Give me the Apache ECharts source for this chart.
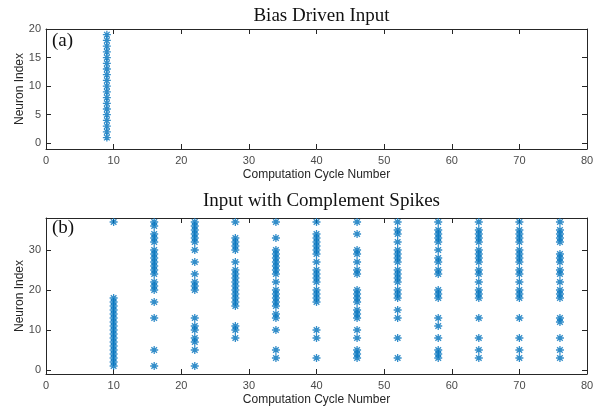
<!DOCTYPE html>
<html>
<head>
<meta charset="utf-8">
<script src="https://cdn.jsdelivr.net/npm/echarts@6/dist/echarts.min.js"></script>
<style>
  html, body { margin: 0; padding: 0; background: #fff; }
  #chart { width: 605px; height: 412px; }
</style>
</head>
<body>
<div id="chart"></div>
<script>
// Panel (a): bias driven input – one burst of spikes
const cycleA = 9;
const neuronsA = [1, 2, 3, 4, 5, 6, 7, 8, 9, 10, 11, 12, 13, 14, 15, 16, 17, 18, 19];

// Panel (b): input with complement spikes – spiking neurons per cycle
const cyclesB = [10, 16, 22, 28, 34, 40, 46, 52, 58, 64, 70, 76];
const neurons10 = [1, 2, 3, 4, 5, 6, 7, 8, 9, 10, 11, 12, 13, 14, 15, 16, 17, 18, 37];
const neurons16 = [37, 36, 34, 33, 32, 30, 29, 28, 27, 26, 25, 24, 22, 21, 20, 17, 13, 5, 1];
const neurons22 = [37, 36, 35, 34, 33, 32, 30, 27, 24, 22, 21, 20, 13, 11, 10, 8, 7, 5, 1];
const neurons28 = [37, 33, 32, 31, 30, 27, 25, 24, 23, 22, 21, 20, 19, 18, 17, 16, 11, 10, 8];
const neurons34 = [37, 33, 30, 29, 28, 27, 26, 25, 24, 22, 20, 19, 18, 17, 16, 14, 13, 10, 5, 3];
const neurons40 = [37, 34, 33, 32, 31, 30, 29, 27, 25, 24, 23, 22, 20, 19, 18, 17, 10, 8, 3];
const neurons46 = [37, 34, 30, 29, 27, 25, 24, 20, 19, 18, 17, 15, 14, 13, 10, 8, 5, 4, 3];
const neurons52 = [37, 35, 34, 32, 30, 29, 28, 27, 25, 24, 23, 22, 20, 19, 18, 15, 13, 8, 3];
const neurons58 = [37, 35, 34, 33, 32, 30, 28, 27, 25, 24, 20, 19, 18, 13, 11, 8, 5, 4, 3];
const neurons64 = [37, 35, 34, 33, 32, 30, 29, 28, 27, 25, 24, 22, 20, 19, 18, 13, 8, 5, 3];
const neurons70 = [37, 35, 34, 33, 32, 30, 29, 28, 27, 25, 24, 22, 20, 19, 18, 13, 8, 5, 3];
const neurons76 = [37, 35, 34, 33, 32, 29, 28, 27, 25, 24, 22, 20, 19, 18, 13, 12, 8, 5, 3];
const neuronsB = [neurons10, neurons16, neurons22, neurons28, neurons34, neurons40,
                  neurons46, neurons52, neurons58, neurons64, neurons70, neurons76];

// Axis ticks
const xTicks = [0, 10, 20, 30, 40, 50, 60, 70, 80];
const yTicksA = [0, 5, 10, 15, 20];
const yTicksB = [0, 10, 20, 30];

const titleA = 'Bias Driven Input';
const titleB = 'Input with Complement Spikes';
const xName = 'Computation Cycle Number';
const yName = 'Neuron Index';

const pointsA = neuronsA.map(n => [cycleA, n]);
const pointsB = [];
cyclesB.forEach((c, i) => neuronsB[i].forEach(n => pointsB.push([c, n])));

const blue = '#0072BD';
const axisColor = '#262626';
const labelColor = '#4a4a4a';
const asterisk = 'path://M5 0L5 10M0 5L10 5M1.5 1.5L8.5 8.5M1.5 8.5L8.5 1.5';

const left = 46, plotW = 541;
const grids = [
  { left: left, top: 29, width: plotW, height: 120, outerBoundsMode: 'none', containLabel: false },
  { left: left, top: 218, width: plotW, height: 156, outerBoundsMode: 'none', containLabel: false }
];

function xAxes(gi) {
  const base = {
    gridIndex: gi, type: 'value', min: 0, max: 80, interval: 10,
    axisLine: { show: true, onZero: false, lineStyle: { color: axisColor, width: 1 } },
    axisTick: { show: true, inside: true, length: 5, lineStyle: { color: axisColor } },
    splitLine: { show: false }
  };
  return [
    Object.assign({}, base, {
      position: 'bottom',
      axisLabel: { color: labelColor, fontFamily: 'Liberation Sans, Arial', fontSize: 11, margin: 6,
                   customValues: xTicks },
      name: xName, nameLocation: 'middle', nameGap: 20, nameMoveOverlap: false,
      nameTextStyle: { color: axisColor, fontFamily: 'Liberation Sans, Arial', fontSize: 12 }
    }),
    Object.assign({}, base, { position: 'top', axisLabel: { show: false } })
  ];
}

function yAxes(gi, max, ticks) {
  const base = {
    gridIndex: gi, type: 'value', min: -1, max: max,
    axisLine: { show: true, onZero: false, lineStyle: { color: axisColor, width: 1 } },
    axisTick: { show: true, inside: true, length: 5, customValues: ticks, lineStyle: { color: axisColor } },
    splitLine: { show: false }
  };
  return [
    Object.assign({}, base, {
      position: 'left',
      axisLabel: { color: labelColor, fontFamily: 'Liberation Sans, Arial', fontSize: 11, margin: 5,
                   customValues: ticks },
      name: yName, nameLocation: 'middle', nameGap: 20, nameMoveOverlap: false,
      nameTextStyle: { color: axisColor, fontFamily: 'Liberation Sans, Arial', fontSize: 12 }
    }),
    Object.assign({}, base, { position: 'right', axisLabel: { show: false } })
  ];
}

const seriesStyle = {
  type: 'scatter',
  symbol: asterisk,
  symbolSize: 8,
  itemStyle: { color: 'none', borderColor: blue, borderWidth: 1.3 },
  emphasis: { disabled: true },
  silent: true
};

const serifText = { fontFamily: 'Liberation Serif, Times New Roman', fontSize: 19, color: '#111', fontWeight: 'normal' };

const option = {
  animation: false,
  backgroundColor: '#fff',
  title: [
    { text: titleA, left: left + plotW / 2, top: 2, textAlign: 'center', textStyle: serifText },
    { text: titleB, left: left + plotW / 2, top: 187, textAlign: 'center', textStyle: serifText }
  ],
  graphic: [
    { type: 'text', left: 52, top: 32, style: { text: '(a)', font: '19px "Liberation Serif"', fill: '#111' } },
    { type: 'text', left: 52, top: 219, style: { text: '(b)', font: '19px "Liberation Serif"', fill: '#111' } }
  ],
  grid: grids,
  xAxis: [...xAxes(0), ...xAxes(1)],
  yAxis: [...yAxes(0, 20, yTicksA), ...yAxes(1, 38, yTicksB)],
  series: [
    Object.assign({}, seriesStyle, { name: titleA, xAxisIndex: 0, yAxisIndex: 0, data: pointsA }),
    Object.assign({}, seriesStyle, { name: titleB, xAxisIndex: 2, yAxisIndex: 2, data: pointsB })
  ]
};

const chart = echarts.init(document.getElementById('chart'), null, { renderer: 'canvas' });
chart.setOption(option);
</script>
</body>
</html>
